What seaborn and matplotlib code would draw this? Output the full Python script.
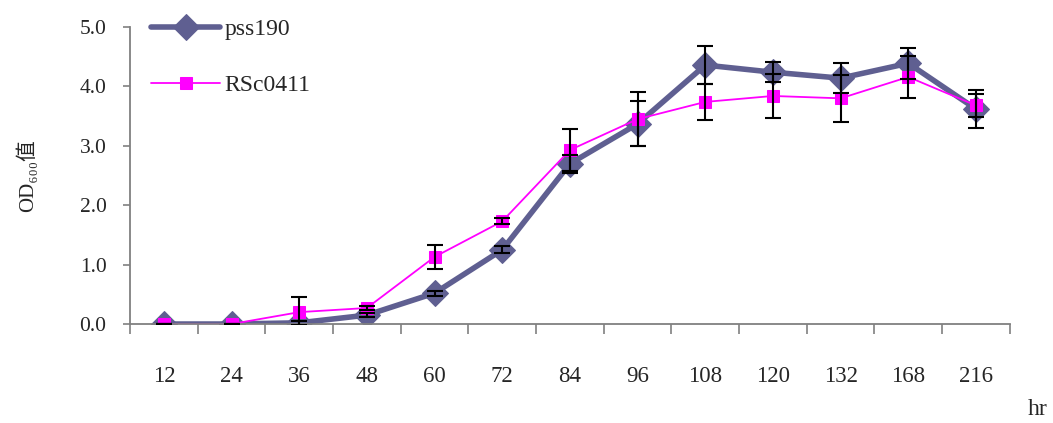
import numpy as np
import pandas as pd
import seaborn as sns
import matplotlib.pyplot as plt

hours = ["12", "24", "36", "48", "60", "72", "84", "96", "108", "120", "132", "168", "216"]
pss190 = [0.0, 0.0, 0.02, 0.15, 0.52, 1.25, 2.70, 3.37, 4.36, 4.24, 4.14, 4.39, 3.62]
pss190_err = [0.0, 0.0, 0.03, 0.03, 0.04, 0.06, 0.15, 0.38, 0.32, 0.17, 0.25, 0.26, 0.32]
rsc0411 = [0.0, 0.0, 0.20, 0.27, 1.13, 1.73, 2.93, 3.45, 3.74, 3.84, 3.80, 4.16, 3.68]
rsc0411_err = [0.0, 0.0, 0.25, 0.03, 0.20, 0.05, 0.35, 0.45, 0.30, 0.37, 0.40, 0.36, 0.20]

sns.set_style("ticks")
plt.rcParams["font.family"] = ["Liberation Serif", "Noto Sans CJK TC"]

pos = np.arange(len(hours))
df = pd.DataFrame({"pos": pos, "pss190": pss190, "RSc0411": rsc0411})

fig = plt.figure(figsize=(10.53, 4.23), dpi=100)
ax = fig.add_axes([0.1235, 0.234, 0.8355, 0.702])

pss_color = "#5f5f91"
mag_color = "#ff00ff"

sns.lineplot(data=df, x="pos", y="pss190", ax=ax, color=pss_color, linewidth=4,
             marker="D", markersize=13, markeredgecolor=pss_color, label="pss190")
sns.lineplot(data=df, x="pos", y="RSc0411", ax=ax, color=mag_color, linewidth=1.3,
             marker="s", markersize=8.5, markeredgecolor=mag_color, label="RSc0411")

ax.errorbar(pos, pss190, yerr=pss190_err, fmt="none", ecolor="black",
            elinewidth=1.5, capsize=6, capthick=1.5, zorder=5)
ax.errorbar(pos, rsc0411, yerr=rsc0411_err, fmt="none", ecolor="black",
            elinewidth=1.5, capsize=6, capthick=1.5, zorder=5)

ax.set_xlim(-0.5, len(hours) - 0.5)
ax.set_ylim(0, 5.0)
ax.set_yticks(np.arange(0, 5.01, 1.0))
ax.set_yticklabels([f"{v:.1f}" for v in np.arange(0, 5.01, 1.0)], fontsize=15.5)
ax.set_xticks(pos)
ax.set_xticklabels(hours, fontsize=16.5)
ax.set_xticks(np.arange(-0.5, len(hours), 1.0), minor=True)
ax.tick_params(axis="x", which="major", length=0, pad=30)
ax.tick_params(axis="x", which="minor", length=7, width=1.2, color="#808080", direction="out")
ax.tick_params(axis="y", length=5, width=1.2, color="#808080", direction="out", pad=12)

for side in ["top", "right"]:
    ax.spines[side].set_visible(False)
for side in ["left", "bottom"]:
    ax.spines[side].set_color("#808080")
    ax.spines[side].set_linewidth(1.3)

ax.set_xlabel("")
ax.set_ylabel("OD₆₀₀值", fontsize=15, labelpad=30)

# legend sits in the top-left corner, no frame
ax.legend(loc="upper left", bbox_to_anchor=(0.0, 1.10), frameon=False, fontsize=17,
          handlelength=2.9, labelspacing=1.45, handletextpad=0.2)

fig.text(0.976, 0.018, "hr", fontsize=17)

fig.savefig("out.png", dpi=100)
